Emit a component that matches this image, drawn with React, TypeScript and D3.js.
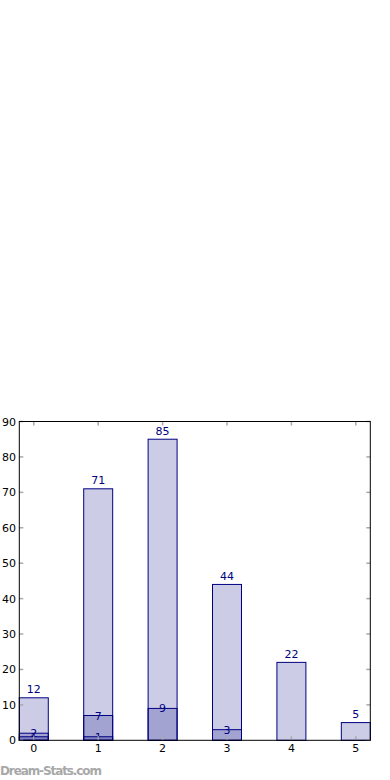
import React from "react";
import * as d3 from "d3";

const categories = ["0", "1", "2", "3", "4", "5"];
const totals = [12, 71, 85, 44, 22, 5];
const middle: (number | null)[] = [2, 7, 9, 3, null, null];
const lowest: (number | null)[] = [1, 1, null, null, null, null];
const yTicks = [0, 10, 20, 30, 40, 50, 60, 70, 80, 90];

const W = 390;
const H = 780;
const left = 19.3;
const right = 370.3;
const top = 421.5;
const bottom = 740.3;
const barW = 0.45;
const navy = "#000080";
const font = "'DejaVu Sans', sans-serif";

export default function App() {
  const x = d3.scaleLinear().domain([-barW / 2, categories.length - 1 + barW / 2]).range([left, right]);
  const y = d3.scaleLinear().domain([0, 90]).range([bottom, top]);
  const bw = x(barW) - x(0);

  const layers = [
    { values: totals as (number | null)[], outer: true },
    { values: middle, outer: false },
    { values: lowest, outer: false },
  ];

  return (
    <svg width={W} height={H} style={{ position: "absolute", left: 0, top: 0 }} fontFamily={font}>
      <rect x={0} y={0} width={W} height={H} fill="#fff" />
      {layers.map((layer, li) =>
        layer.values.map((v, i) =>
          v == null ? null : (
            <rect
              key={`b${li}-${i}`}
              x={x(i) - bw / 2}
              y={y(v)}
              width={bw}
              height={y(0) - y(v)}
              fill={navy}
              fillOpacity={0.2}
              stroke={navy}
              strokeWidth={1}
            />
          )
        )
      )}
      {layers.map((layer, li) =>
        layer.values.map((v, i) =>
          v == null ? null : (
            <text
              key={`t${li}-${i}`}
              x={x(i)}
              y={layer.outer ? y(v) - 4.5 : y(v) + 4}
              textAnchor="middle"
              fontSize={11}
              fill={navy}
            >
              {v}
            </text>
          )
        )
      )}
      {categories.map((c, i) => (
        <g key={`xt${i}`}>
          <line x1={x(i)} x2={x(i)} y1={bottom} y2={bottom - 4} stroke="#aaa" strokeWidth={1.5} />
          <line x1={x(i)} x2={x(i)} y1={top} y2={top + 4} stroke="#aaa" strokeWidth={1.5} />
          <text x={x(i)} y={752} textAnchor="middle" fontSize={11} fill="#000">
            {c}
          </text>
        </g>
      ))}
      {yTicks.map((t) => (
        <g key={`yt${t}`}>
          <line x1={left} x2={left + 4} y1={y(t)} y2={y(t)} stroke="#aaa" strokeWidth={1.5} />
          <line x1={right} x2={right - 4} y1={y(t)} y2={y(t)} stroke="#aaa" strokeWidth={1.5} />
          <text x={16} y={y(t) + 4} textAnchor="end" fontSize={11} fill="#000">
            {t}
          </text>
        </g>
      ))}
      <rect x={left} y={top} width={right - left} height={bottom - top} fill="none" stroke="#000" strokeWidth={1} />
      <text x={0} y={775} fontSize={12} fontWeight="bold" fill="#a8a8a8" fontFamily={font} textLength={102}>
        Dream-Stats.com
      </text>
    </svg>
  );
}
